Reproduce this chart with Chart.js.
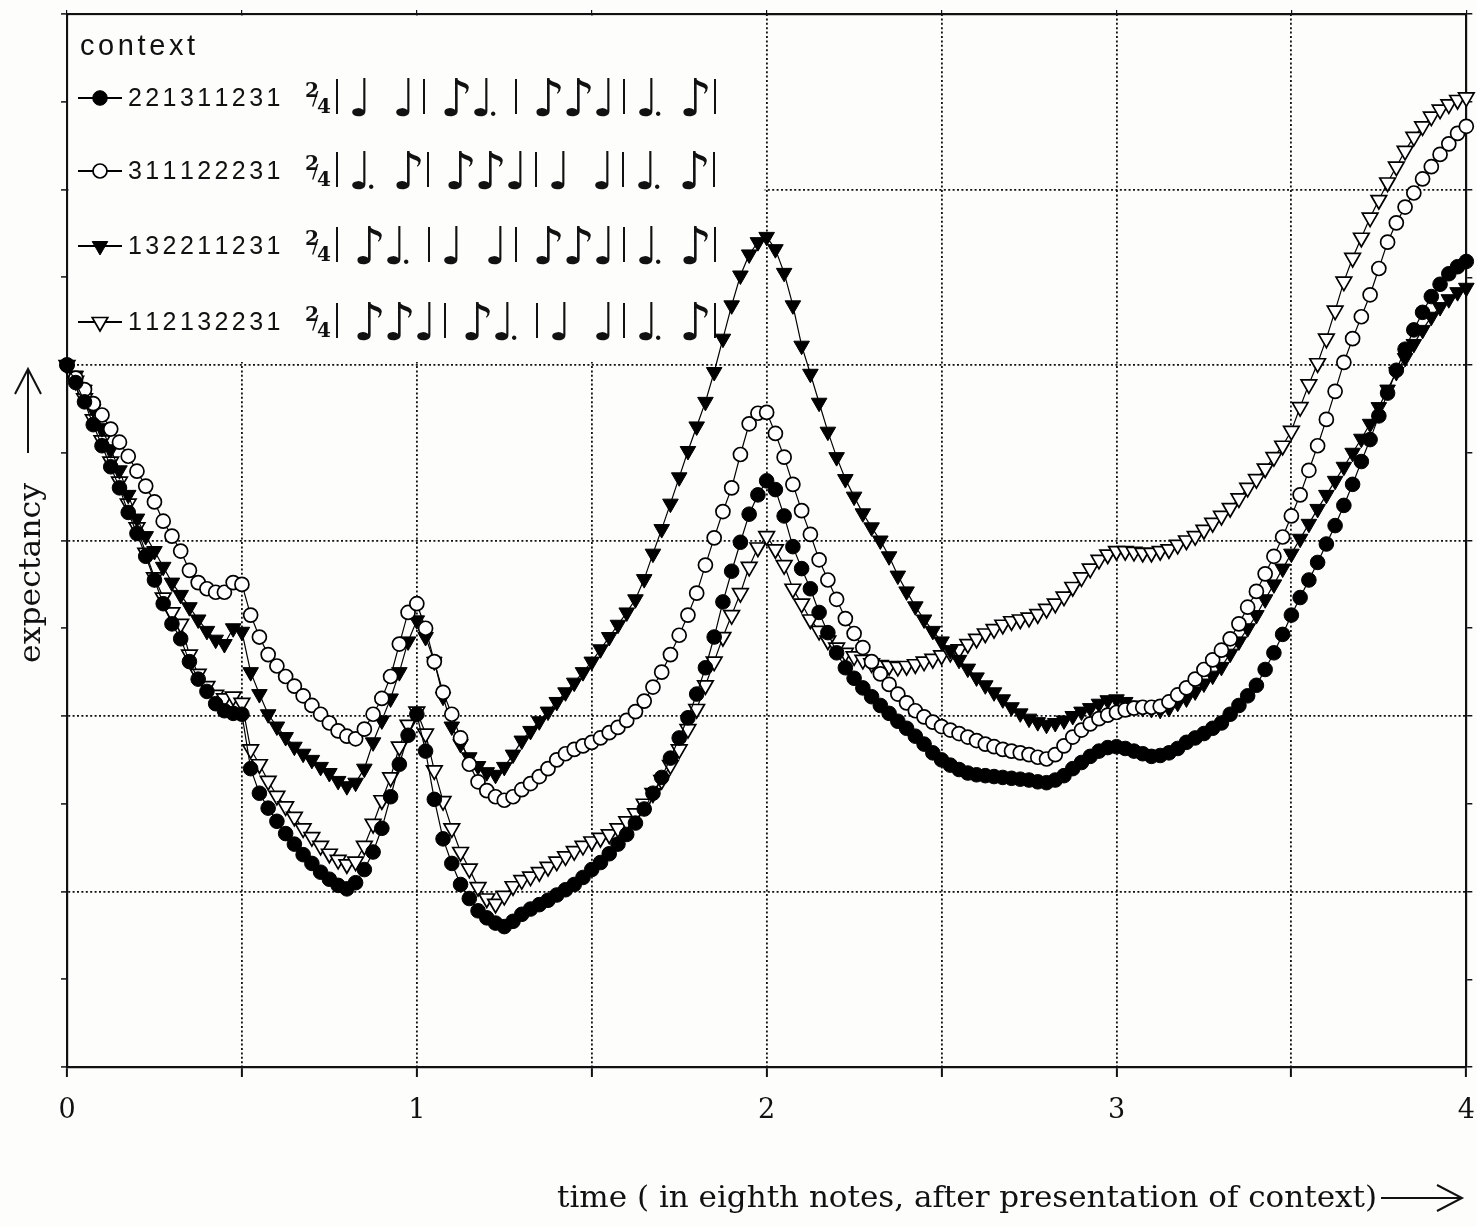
<!DOCTYPE html>
<html>
<head>
<meta charset="utf-8">
<title>expectancy over time</title>
<script src="https://cdn.jsdelivr.net/npm/chart.js@4.4.1/dist/chart.umd.min.js"></script>
<style>
  html, body { margin: 0; padding: 0; background: #fdfdfb; }
  #wrap { width: 1477px; height: 1226px; }
</style>
</head>
<body>
<div id="wrap"><canvas id="chart" width="1477" height="1226"></canvas></div>
<script>
// time, in eighth notes after the context
const times = [
  0, 0.025, 0.05, 0.075, 0.1, 0.125, 0.15, 0.175, 0.2, 0.225, 0.25, 0.275, 0.3, 0.325, 0.35, 0.375, 0.4, 0.425, 0.45, 0.475,
  0.5, 0.525, 0.55, 0.575, 0.6, 0.625, 0.65, 0.675, 0.7, 0.725, 0.75, 0.775, 0.8, 0.825, 0.85, 0.875, 0.9, 0.925, 0.95, 0.975,
  1, 1.025, 1.05, 1.075, 1.1, 1.125, 1.15, 1.175, 1.2, 1.225, 1.25, 1.275, 1.3, 1.325, 1.35, 1.375, 1.4, 1.425, 1.45, 1.475,
  1.5, 1.525, 1.55, 1.575, 1.6, 1.625, 1.65, 1.675, 1.7, 1.725, 1.75, 1.775, 1.8, 1.825, 1.85, 1.875, 1.9, 1.925, 1.95, 1.975,
  2, 2.025, 2.05, 2.075, 2.1, 2.125, 2.15, 2.175, 2.2, 2.225, 2.25, 2.275, 2.3, 2.325, 2.35, 2.375, 2.4, 2.425, 2.45, 2.475,
  2.5, 2.525, 2.55, 2.575, 2.6, 2.625, 2.65, 2.675, 2.7, 2.725, 2.75, 2.775, 2.8, 2.825, 2.85, 2.875, 2.9, 2.925, 2.95, 2.975,
  3, 3.025, 3.05, 3.075, 3.1, 3.125, 3.15, 3.175, 3.2, 3.225, 3.25, 3.275, 3.3, 3.325, 3.35, 3.375, 3.4, 3.425, 3.45, 3.475,
  3.5, 3.525, 3.55, 3.575, 3.6, 3.625, 3.65, 3.675, 3.7, 3.725, 3.75, 3.775, 3.8, 3.825, 3.85, 3.875, 3.9, 3.925, 3.95, 3.975,
  4
]

// context 221311231 (filled circles)
const expA = [
  8.00, 7.80, 7.58, 7.32, 7.08, 6.84, 6.60, 6.32, 6.08, 5.82, 5.55, 5.28, 5.05, 4.88, 4.62, 4.42, 4.28, 4.14, 4.06, 4.03,
  4.02, 3.40, 3.12, 2.95, 2.80, 2.66, 2.54, 2.42, 2.32, 2.22, 2.14, 2.07, 2.03, 2.10, 2.25, 2.45, 2.72, 3.08, 3.45, 3.78,
  4.02, 3.60, 3.05, 2.60, 2.32, 2.08, 1.92, 1.78, 1.70, 1.64, 1.60, 1.66, 1.74, 1.80, 1.85, 1.90, 1.96, 2.02, 2.08, 2.16,
  2.25, 2.33, 2.43, 2.54, 2.65, 2.78, 2.94, 3.12, 3.30, 3.52, 3.75, 3.98, 4.25, 4.55, 4.90, 5.30, 5.65, 5.98, 6.30, 6.52,
  6.68, 6.58, 6.28, 5.93, 5.68, 5.45, 5.18, 4.95, 4.72, 4.55, 4.43, 4.32, 4.22, 4.12, 4.03, 3.94, 3.86, 3.77, 3.68, 3.58,
  3.50, 3.44, 3.39, 3.35, 3.33, 3.32, 3.31, 3.30, 3.29, 3.28, 3.27, 3.25, 3.24, 3.27, 3.32, 3.40, 3.47, 3.54, 3.60, 3.64,
  3.65, 3.63, 3.60, 3.57, 3.54, 3.55, 3.58, 3.63, 3.70, 3.75, 3.80, 3.86, 3.92, 4.02, 4.12, 4.23, 4.35, 4.53, 4.72, 4.93,
  5.15, 5.35, 5.55, 5.75, 5.96, 6.17, 6.40, 6.64, 6.90, 7.15, 7.42, 7.68, 7.94, 8.18, 8.40, 8.60, 8.78, 8.92, 9.04, 9.12,
  9.18
]

// context 311122231 (open circles)
const expB = [
  8.00, 7.85, 7.72, 7.56, 7.43, 7.27, 7.12, 6.96, 6.79, 6.62, 6.44, 6.22, 6.05, 5.88, 5.66, 5.52, 5.45, 5.41, 5.41, 5.52,
  5.50, 5.15, 4.90, 4.70, 4.57, 4.45, 4.34, 4.23, 4.12, 4.02, 3.92, 3.83, 3.77, 3.74, 3.85, 4.02, 4.20, 4.45, 4.82, 5.18,
  5.28, 5.00, 4.62, 4.27, 4.02, 3.75, 3.45, 3.25, 3.15, 3.08, 3.04, 3.08, 3.16, 3.23, 3.31, 3.40, 3.50, 3.57, 3.62, 3.66,
  3.70, 3.75, 3.81, 3.87, 3.95, 4.05, 4.17, 4.33, 4.50, 4.70, 4.92, 5.15, 5.40, 5.72, 6.03, 6.33, 6.60, 6.98, 7.33, 7.45,
  7.46, 7.22, 6.95, 6.64, 6.34, 6.07, 5.78, 5.55, 5.33, 5.11, 4.94, 4.78, 4.62, 4.48, 4.36, 4.25, 4.15, 4.06, 3.99, 3.93,
  3.88, 3.84, 3.80, 3.76, 3.72, 3.68, 3.65, 3.62, 3.60, 3.58, 3.56, 3.53, 3.51, 3.56, 3.66, 3.76, 3.84, 3.91, 3.97, 4.01,
  4.04, 4.07, 4.09, 4.10, 4.10, 4.11, 4.16, 4.24, 4.32, 4.42, 4.53, 4.64, 4.75, 4.88, 5.05, 5.24, 5.42, 5.62, 5.82, 6.04,
  6.28, 6.52, 6.80, 7.08, 7.38, 7.70, 8.03, 8.30, 8.55, 8.80, 9.10, 9.40, 9.62, 9.80, 9.96, 10.12, 10.26, 10.40, 10.52, 10.64,
  10.72
]

// context 132211231 (filled triangles)
const expC = [
  8.00, 7.88, 7.72, 7.50, 7.28, 7.04, 6.80, 6.52, 6.25, 6.05, 5.88, 5.70, 5.52, 5.38, 5.24, 5.10, 4.97, 4.87, 4.82, 5.00,
  4.96, 4.50, 4.25, 4.02, 3.88, 3.76, 3.65, 3.57, 3.50, 3.42, 3.35, 3.26, 3.20, 3.24, 3.40, 3.70, 3.95, 4.20, 4.50, 4.85,
  5.09, 4.90, 4.62, 4.22, 3.88, 3.68, 3.53, 3.43, 3.36, 3.33, 3.42, 3.56, 3.72, 3.83, 3.94, 4.05, 4.16, 4.27, 4.38, 4.50,
  4.62, 4.76, 4.90, 5.04, 5.18, 5.33, 5.56, 5.85, 6.13, 6.42, 6.72, 7.02, 7.30, 7.58, 7.92, 8.30, 8.68, 9.02, 9.26, 9.40,
  9.46, 9.32, 9.05, 8.68, 8.22, 7.90, 7.57, 7.24, 6.95, 6.70, 6.50, 6.31, 6.15, 6.00, 5.82, 5.60, 5.42, 5.25, 5.10, 4.97,
  4.85, 4.75, 4.64, 4.54, 4.44, 4.35, 4.27, 4.19, 4.10, 4.03, 3.97, 3.93, 3.90, 3.92, 3.95, 4.00, 4.05, 4.09, 4.14, 4.18,
  4.19, 4.16, 4.12, 4.09, 4.08, 4.07, 4.09, 4.15, 4.20, 4.28, 4.37, 4.46, 4.56, 4.71, 4.85, 5.00, 5.15, 5.33, 5.50, 5.68,
  5.85, 6.02, 6.19, 6.36, 6.52, 6.68, 6.84, 7.00, 7.16, 7.33, 7.52, 7.72, 7.92, 8.08, 8.24, 8.40, 8.55, 8.66, 8.75, 8.83,
  8.88
]

// context 112132231 (open triangles)
const expD = [
  8.00, 7.82, 7.62, 7.38, 7.14, 6.90, 6.67, 6.42, 6.15, 5.86, 5.58, 5.35, 5.18, 5.05, 4.70, 4.48, 4.34, 4.24, 4.20, 4.22,
  4.15, 3.62, 3.45, 3.26, 3.09, 2.97, 2.85, 2.72, 2.62, 2.52, 2.43, 2.36, 2.31, 2.34, 2.52, 2.77, 3.04, 3.30, 3.65, 3.90,
  4.05, 3.80, 3.38, 3.03, 2.72, 2.45, 2.26, 2.05, 1.92, 1.86, 1.95, 2.06, 2.13, 2.17, 2.22, 2.28, 2.34, 2.40, 2.46, 2.52,
  2.57, 2.61, 2.65, 2.72, 2.80, 2.89, 3.00, 3.12, 3.27, 3.44, 3.62, 3.85, 4.08, 4.35, 4.62, 4.90, 5.15, 5.40, 5.70, 5.92,
  6.05, 5.90, 5.72, 5.45, 5.28, 5.10, 4.97, 4.86, 4.78, 4.72, 4.68, 4.64, 4.60, 4.58, 4.57, 4.56, 4.57, 4.59, 4.62, 4.65,
  4.69, 4.72, 4.76, 4.82, 4.88, 4.94, 4.99, 5.04, 5.08, 5.10, 5.12, 5.16, 5.22, 5.28, 5.36, 5.47, 5.58, 5.68, 5.78, 5.84,
  5.88, 5.88, 5.87, 5.86, 5.86, 5.88, 5.90, 5.95, 6.00, 6.05, 6.12, 6.20, 6.28, 6.37, 6.48, 6.60, 6.70, 6.82, 6.95, 7.08,
  7.25, 7.52, 7.78, 8.02, 8.30, 8.62, 8.95, 9.22, 9.45, 9.68, 9.88, 10.08, 10.26, 10.44, 10.60, 10.72, 10.83, 10.91, 10.97, 11.02,
  11.05
]

const contextLabels = ["221311231", "311122231", "132211231", "112132231"]

// rhythm of each context, one array per bar: e = eighth, q = quarter, q. = dotted quarter
const contextRhythms = [
  [["q", "q"], ["e", "q."], ["e", "e", "q"], ["q.", "e"]],
  [["q.", "e"], ["e", "e", "q"], ["q", "q"], ["q.", "e"]],
  [["e", "q."], ["q", "q"], ["e", "e", "q"], ["q.", "e"]],
  [["e", "e", "q"], ["e", "q."], ["q", "q"], ["q.", "e"]],
]

const xTicks = [0, 1, 2, 3, 4]
const legendTitle = "context"
const xTitle = "time ( in eighth notes, after presentation of context)"
const yTitle = "expectancy"

const BG = "#fdfdfb"
const INK = "#111"

function toPoints(values) {
  return values.map((v, i) => ({ x: times[i], y: v }))
}

function seriesStyle(filled, shape) {
  return {
    borderColor: "#000",
    borderWidth: 1.2,
    backgroundColor: filled ? "#000" : "#fff",
    pointStyle: shape,
    pointRotation: shape === "triangle" ? 180 : 0,
    pointRadius: shape === "triangle" ? 9 : filled ? 7.3 : 7,
    pointBorderWidth: filled ? 1 : 1.7,
    pointBorderColor: "#000",
    pointBackgroundColor: filled ? "#000" : "#fff",
    tension: 0,
    clip: false,
  }
}

/**
 * Draw one marker like the ones used by the datasets
 */
function drawMarker(ctx, ds, x, y) {
  ctx.save()
  ctx.beginPath()
  if (ds.pointStyle === "circle") {
    ctx.arc(x, y, ds.pointRadius, 0, Math.PI * 2)
  } else {
    const r = ds.pointRadius
    ctx.moveTo(x, y + r)
    ctx.lineTo(x - r * 0.866, y - r / 2)
    ctx.lineTo(x + r * 0.866, y - r / 2)
    ctx.closePath()
  }
  ctx.fillStyle = ds.pointBackgroundColor
  ctx.fill()
  ctx.lineWidth = ds.pointBorderWidth
  ctx.strokeStyle = "#000"
  ctx.stroke()
  ctx.restore()
}

function spacedText(ctx, text, x, y, spacing) {
  for (const ch of text) {
    ctx.fillText(ch, x, y)
    x += ctx.measureText(ch).width + spacing
  }
}

function barline(ctx, x, cy) {
  ctx.beginPath()
  ctx.moveTo(x, cy - 19)
  ctx.lineTo(x, cy + 16)
  ctx.lineWidth = 2
  ctx.strokeStyle = INK
  ctx.stroke()
}

/**
 * Draw a 2/4 bar sequence in simple proportional notation
 */
function drawRhythm(ctx, bars, x0, cy) {
  const lead = { e: 18, q: 13, "q.": 13 }
  const advance = { e: 30, q: 44, "q.": 44 }
  const tail = { e: 34, q: 30, "q.": 44 }

  ctx.fillStyle = INK
  ctx.textAlign = "left"
  ctx.textBaseline = "alphabetic"
  ctx.font = 'bold 20px "DejaVu Serif"'
  ctx.fillText("2", x0, cy - 1)
  ctx.fillText("4", x0 + 12, cy + 15)
  ctx.font = '19px "DejaVu Serif"'
  ctx.fillText("/", x0 + 7, cy + 7)

  let barX = x0 + 32
  barline(ctx, barX, cy)
  bars.forEach((bar) => {
    let x = barX + lead[bar[0]]
    bar.forEach((note, i) => {
      ctx.font = '52px "DejaVu Sans"'
      ctx.fillText(note === "e" ? "\u266A" : "\u2669", x - 2, cy + 18)
      if (note === "q.") {
        ctx.font = 'bold 24px "DejaVu Serif"'
        ctx.fillText(".", x + 17, cy + 18)
      }
      if (i < bar.length - 1) x += advance[note]
      else barX = x + tail[note]
    })
    barline(ctx, barX, cy)
  })
}

// white legend panel with the context rows, drawn below the data
const legendPanel = {
  id: "legendPanel",
  beforeDatasetsDraw(chart) {
    const { ctx, chartArea, scales } = chart
    const right = scales.x.getPixelForValue(2) - 2
    const bottom = scales.y.getPixelForValue(8) - 3
    ctx.save()
    ctx.fillStyle = BG
    ctx.fillRect(chartArea.left + 1.5, chartArea.top + 1.5, right - chartArea.left - 1.5, bottom - chartArea.top - 1.5)

    ctx.fillStyle = INK
    ctx.textAlign = "left"
    ctx.textBaseline = "alphabetic"
    ctx.font = '29px "Liberation Sans"'
    spacedText(ctx, legendTitle, chartArea.left + 13, 55, 3.6)

    const rowY = [98, 171, 246, 322]
    chart.data.datasets.forEach((ds, i) => {
      const cy = rowY[i]
      ctx.beginPath()
      ctx.moveTo(chartArea.left + 11, cy)
      ctx.lineTo(chartArea.left + 55, cy)
      ctx.lineWidth = 2
      ctx.strokeStyle = "#000"
      ctx.stroke()
      drawMarker(ctx, ds, chartArea.left + 33, cy)

      ctx.fillStyle = INK
      ctx.font = '25px "Liberation Sans"'
      spacedText(ctx, contextLabels[i], chartArea.left + 61, cy + 8, 3.4)
      drawRhythm(ctx, contextRhythms[i], chartArea.left + 238, cy)
    })
    ctx.restore()
  },
}

// axis titles with their arrows
const axisTitles = {
  id: "axisTitles",
  afterDraw(chart) {
    const { ctx } = chart
    ctx.save()
    ctx.fillStyle = INK
    ctx.strokeStyle = INK
    ctx.lineWidth = 2
    ctx.textBaseline = "alphabetic"

    // x title, right aligned against its arrow
    ctx.font = '30px "DejaVu Serif"'
    ctx.textAlign = "left"
    const xw = ctx.measureText(xTitle).width
    ctx.save()
    ctx.translate(557, 1207)
    ctx.scale(820 / xw, 1)
    ctx.fillText(xTitle, 0, 0)
    ctx.restore()
    ctx.beginPath()
    ctx.moveTo(1381, 1198)
    ctx.lineTo(1461, 1198)
    ctx.stroke()
    ctx.beginPath()
    ctx.moveTo(1437, 1185)
    ctx.lineTo(1462, 1198)
    ctx.lineTo(1437, 1211)
    ctx.stroke()

    // y title, rotated
    const yw = ctx.measureText(yTitle).width
    ctx.save()
    ctx.translate(40, 663)
    ctx.rotate(-Math.PI / 2)
    ctx.scale(180 / yw, 1)
    ctx.fillText(yTitle, 0, 0)
    ctx.restore()
    ctx.beginPath()
    ctx.moveTo(28, 453)
    ctx.lineTo(28, 369)
    ctx.stroke()
    ctx.beginPath()
    ctx.moveTo(15, 394)
    ctx.lineTo(28, 369)
    ctx.lineTo(41, 394)
    ctx.stroke()
    ctx.restore()
  },
}

const gridColor = "#111"
const dots = [2, 2.4]

const chart = new Chart(document.getElementById("chart").getContext("2d"), {
  type: "line",
  data: {
    datasets: [
      { label: contextLabels[0], data: toPoints(expA), ...seriesStyle(true, "circle") },
      { label: contextLabels[1], data: toPoints(expB), ...seriesStyle(false, "circle") },
      { label: contextLabels[2], data: toPoints(expC), ...seriesStyle(true, "triangle") },
      { label: contextLabels[3], data: toPoints(expD), ...seriesStyle(false, "triangle") },
    ],
  },
  options: {
    responsive: false,
    animation: false,
    devicePixelRatio: 1,
    layout: { padding: 0 },
    plugins: {
      legend: { display: false },
      tooltip: { enabled: false },
    },
    scales: {
      x: {
        type: "linear",
        position: "bottom",
        min: 0,
        max: 4,
        afterFit: (s) => {
          s.height = 159
          s.paddingLeft = 0
          s.paddingRight = 0
        },
        ticks: {
          stepSize: 0.5,
          autoSkip: false,
          maxRotation: 0,
          padding: 18,
          color: INK,
          font: { family: "DejaVu Serif", size: 27 },
          callback: (v) => (xTicks.includes(v) ? String(v) : ""),
        },
        grid: {
          color: (c) => (c.tick && c.tick.value > 0 && c.tick.value < 4 ? gridColor : "rgba(0,0,0,0)"),
          lineWidth: 1.8,
          tickLength: 10,
          tickColor: INK,
          tickWidth: 2,
        },
        border: { color: INK, width: 2.2, dash: dots },
      },
      xTop: {
        type: "linear",
        position: "top",
        min: 0,
        max: 4,
        afterFit: (s) => {
          s.height = 14
          s.paddingLeft = 0
          s.paddingRight = 0
        },
        ticks: { stepSize: 0.5, display: false },
        grid: { drawOnChartArea: false, tickLength: 4, color: INK, lineWidth: 1.2 },
        border: { color: INK, width: 2.2 },
      },
      y: {
        type: "linear",
        min: 0,
        max: 12,
        afterFit: (s) => { s.width = 67 },
        ticks: { stepSize: 1, display: false },
        grid: {
          color: (c) => (c.tick && c.tick.value % 2 === 0 && c.tick.value > 0 && c.tick.value < 12 ? gridColor : "rgba(0,0,0,0)"),
          lineWidth: 1.8,
          tickLength: 6,
          tickColor: INK,
          tickWidth: 1.5,
        },
        border: { color: INK, width: 2.2, dash: dots },
      },
      yRight: {
        type: "linear",
        position: "right",
        min: 0,
        max: 12,
        afterFit: (s) => { s.width = 10 },
        ticks: { stepSize: 1, display: false },
        grid: { drawOnChartArea: false, tickLength: 6, color: INK, lineWidth: 1.5 },
        border: { color: INK, width: 2.2 },
      },
    },
  },
  plugins: [legendPanel, axisTitles],
})
</script>
</body>
</html>
